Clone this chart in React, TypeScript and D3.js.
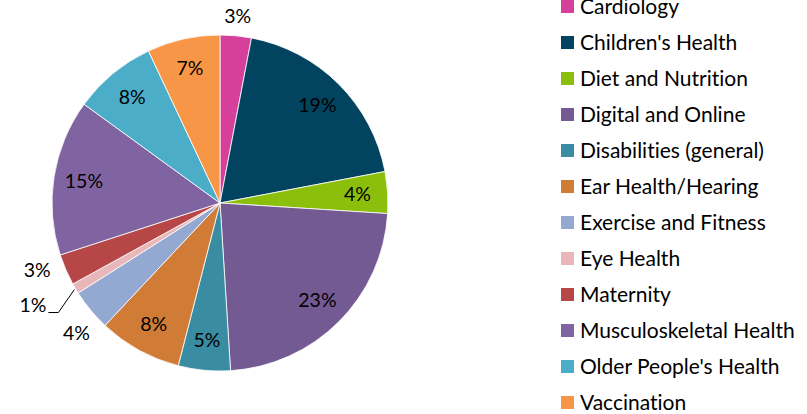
import * as d3 from "d3";
import { useEffect, useRef } from "react";

const categories = [
  "Cardiology",
  "Children's Health",
  "Diet and Nutrition",
  "Digital and Online",
  "Disabilities (general)",
  "Ear Health/Hearing",
  "Exercise and Fitness",
  "Eye Health",
  "Maternity",
  "Musculoskeletal Health",
  "Older People's Health",
  "Vaccination",
];
const shares = [3, 19, 4, 23, 5, 8, 4, 1, 3, 15, 8, 7];
const colors = [
  "#D6409A",
  "#02445F",
  "#8CBE0C",
  "#745A92",
  "#3A8CA2",
  "#D07C37",
  "#93A9D2",
  "#E9B7BA",
  "#B74747",
  "#8064A2",
  "#4BADC7",
  "#F79646",
];
// labels that Excel pushed outside the pie
const outside = ["Cardiology", "Exercise and Fitness", "Eye Health", "Maternity"];

export default function App() {
  const ref = useRef<SVGSVGElement | null>(null);

  useEffect(() => {
    if (!ref.current) return;
    const svg = d3.select(ref.current);
    svg.selectAll("*").remove();

    const cx = 220;
    const cy = 203;
    const r = 168;
    const font = "Lato, 'Open Sans', sans-serif";

    const data = categories.map((name, i) => ({ name, value: shares[i], color: colors[i] }));
    const pie = d3.pie<(typeof data)[0]>().value((d) => d.value).sort(null);
    const arcs = pie(data);
    const arc = d3.arc<d3.PieArcDatum<(typeof data)[0]>>().innerRadius(0).outerRadius(r);

    const g = svg.append("g").attr("transform", `translate(${cx},${cy})`);

    g.selectAll("path")
      .data(arcs)
      .join("path")
      .attr("d", arc)
      .attr("fill", (d) => d.data.color)
      .attr("stroke", "#fff")
      .attr("stroke-width", 0.8);

    const total = d3.sum(shares);
    const fmt = (v: number) => `${Math.round((v / total) * 100)}%`;

    arcs.forEach((d) => {
      const mid = (d.startAngle + d.endAngle) / 2;
      const name = d.data.name;
      const isOut = outside.includes(name);
      let rr = isOut ? r + 20 : r * 0.82;
      if (name === "Exercise and Fitness") rr = r + 26;
      if (name === "Maternity") rr = r + 22;
      let x = Math.sin(mid) * rr;
      let y = -Math.cos(mid) * rr;
      let anchor = "middle";
      if (name === "Maternity") {
        anchor = "end";
        x += 5;
        y -= 8;
      }
      if (name === "Exercise and Fitness") {
        x += 6;
        y += 7;
      }
      if (name === "Eye Health") {
        // leader line from slice edge down-left, then a short horizontal tick
        const ex = Math.sin(mid) * r;
        const ey = -Math.cos(mid) * r;
        const kx = ex - 17;
        const ky = ey + 24;
        g.append("polyline")
          .attr("points", `${ex - 1},${ey + 1} ${kx},${ky} ${kx - 10},${ky}`)
          .attr("fill", "none")
          .attr("stroke", "#000")
          .attr("stroke-width", 1);
        x = kx - 12;
        y = ky - 7;
        anchor = "end";
      }
      g.append("text")
        .attr("x", x)
        .attr("y", y)
        .attr("dy", "0.35em")
        .attr("text-anchor", anchor)
        .style("font-family", font)
        .style("font-size", "19.5px")
        .attr("fill", "#000")
        .text(fmt(d.data.value));
    });

    const legend = svg
      .append("g")
      .selectAll("g")
      .data(data)
      .join("g")
      .attr("transform", (_d, i) => `translate(561,${6.5 + i * 36})`);

    legend
      .append("rect")
      .attr("x", 0)
      .attr("y", -6.5)
      .attr("width", 13)
      .attr("height", 13)
      .attr("fill", (d) => d.color);

    legend
      .append("text")
      .attr("x", 19)
      .attr("y", 0)
      .attr("dy", "0.35em")
      .style("font-family", font)
      .style("font-size", "21px")
      .style("font-variant-ligatures", "none")
      .attr("fill", "#000")
      .text((d) => d.name);
  }, []);

  return (
    <svg
      ref={ref}
      width={807}
      height={414}
      style={{ position: "absolute", left: 0, top: 0, background: "#fff" }}
    />
  );
}
